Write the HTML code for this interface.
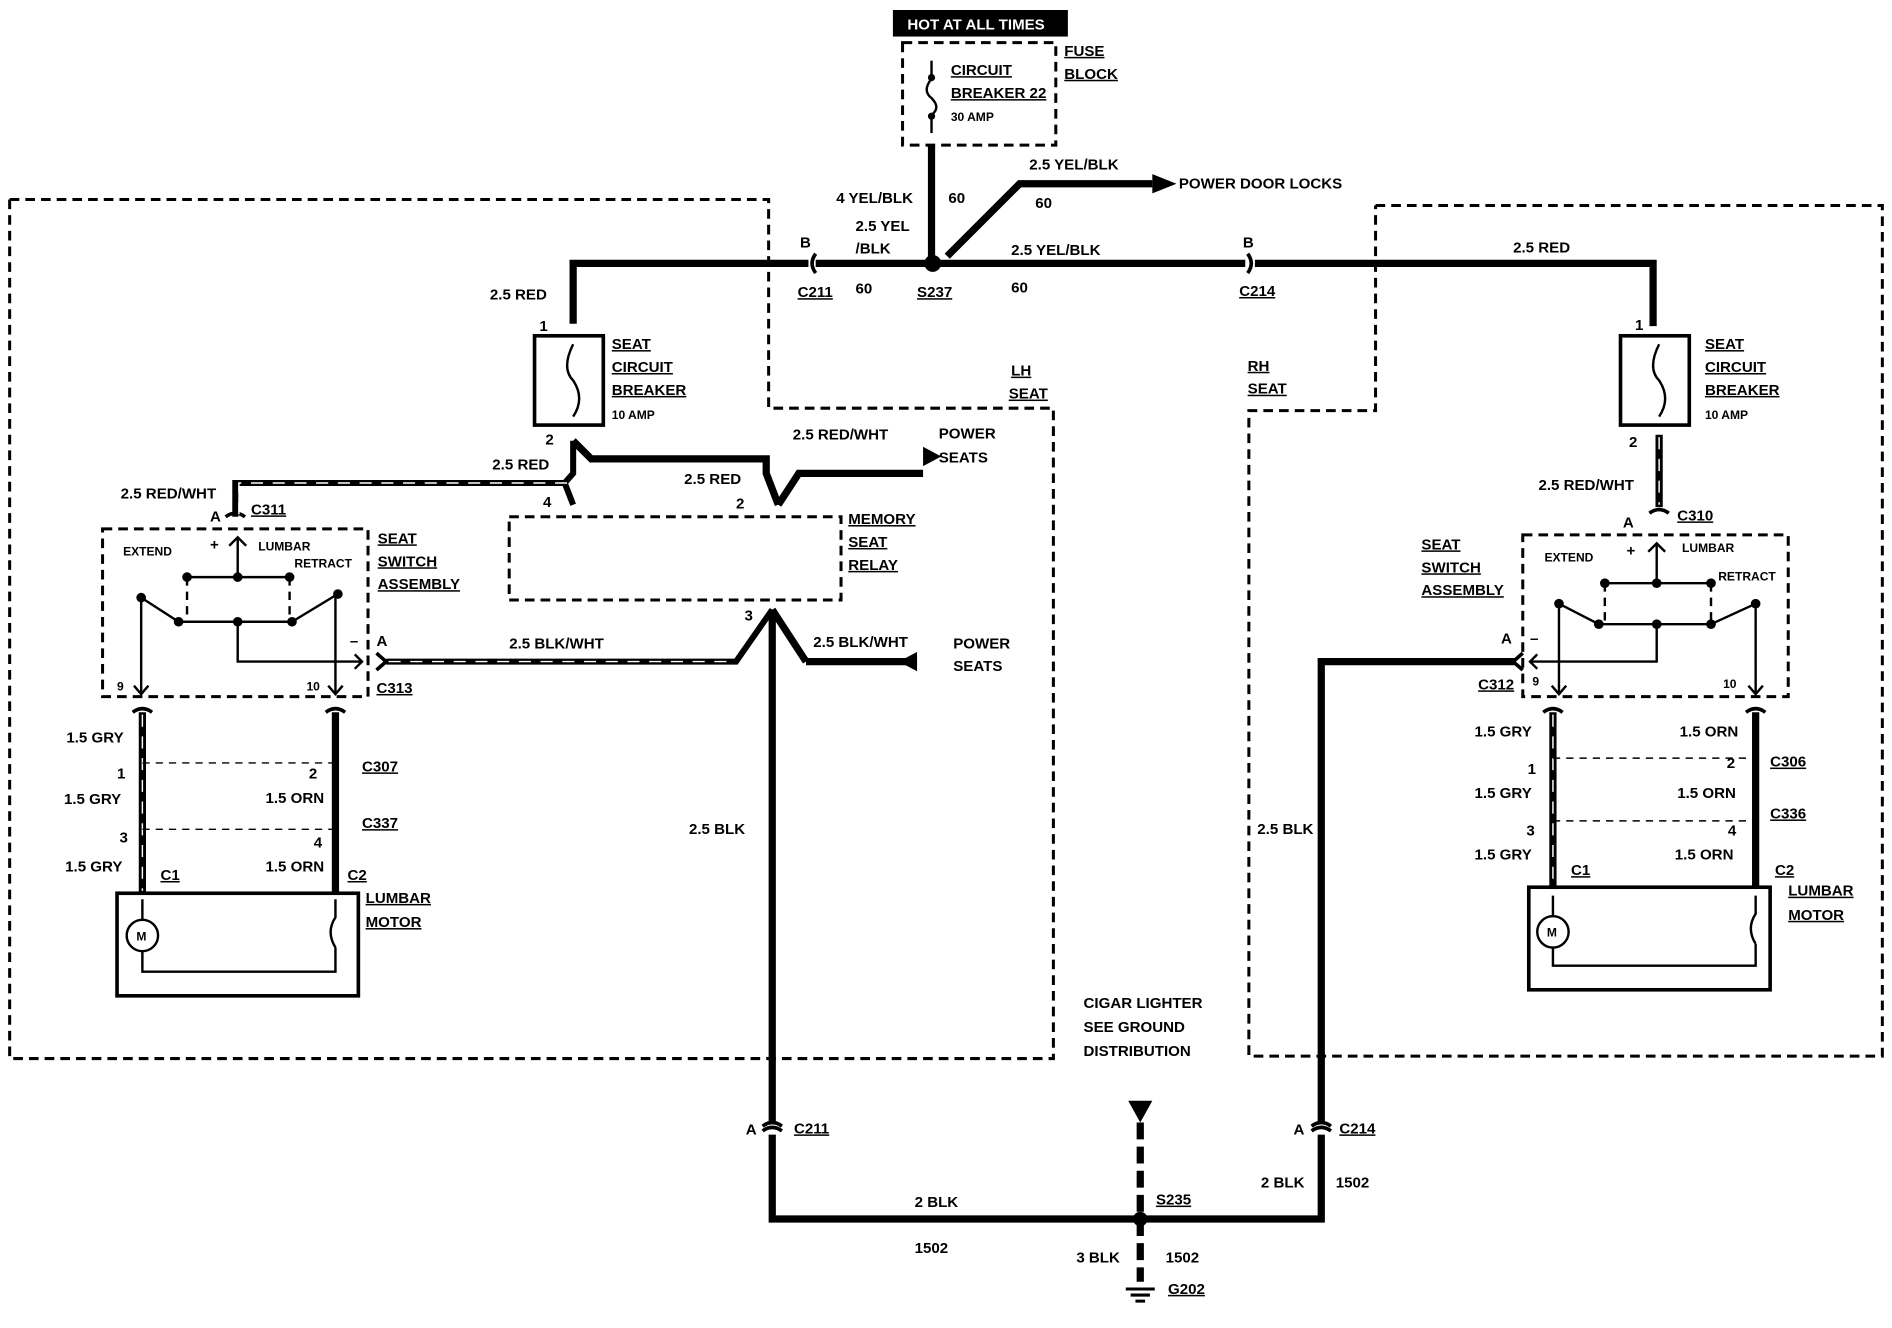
<!DOCTYPE html>
<html><head><meta charset="utf-8"><style>
html,body{margin:0;padding:0;background:#fff;}
svg{display:block;}
text{font-family:"Liberation Sans",sans-serif;font-weight:bold;font-size:12.5px;fill:#000;}
.s{font-size:10px;}
.u{text-decoration:underline;}
</style></head><body>
<svg width="1892" height="1328" viewBox="0 0 1568 1100" xmlns="http://www.w3.org/2000/svg">
<g fill="none" stroke="#000">
<g stroke-width="2.5" stroke-dasharray="8,5">
<rect x="748" y="35" width="127" height="85"/>
<polyline points="8,165 637,165 637,338 873,338 873,877 8,877 8,165"/>
<polyline points="1140,170 1560,170 1560,875 1035,875 1035,340 1140,340 1140,170"/>
<rect x="422" y="428" width="275" height="69"/>
<rect x="85" y="438" width="220" height="139"/>
<rect x="1262" y="443" width="220" height="134"/>
</g>
<path d="M772 50 V62 M772 96 V110 M772 65 q-8 10 0 16 q8 8 0 14" stroke-width="2"/>
<circle cx="772" cy="64" r="2.5" fill="#000"/><circle cx="772" cy="96" r="2.5" fill="#000"/>
<g stroke-width="6" stroke-linejoin="miter">
<path d="M772 120 V218"/>
<path d="M676 218 H1032"/>
<path d="M1040 218 H1370 V270"/>
<path d="M670 218 H475 V268"/>
<path d="M785 212 L845 152 H955"/>
<path d="M475 365 L490 380 H635 V392 L645 418"/>
<path d="M645 418 L662 392 H765"/>
<path d="M640 505 V930 M640 940 V1010 H945"/>
<path d="M945 1010 H1095 V940 M1095 930 V548 H1255"/>
<path d="M668 548 H760"/>
<path d="M640 505 L668 548"/>
<path d="M1375 360 V420"/>
<path d="M118 590 V740 M278 590 V740 M1287 590 V735 M1455 590 V735"/>
<path d="M945 930 V1062" stroke-dasharray="14,6"/>
</g>
<!-- connector symbols -->
<g stroke-width="3">
<path d="M676 210 q-6 8 0 16 M1034 210 q6 8 0 16 M632 933 q8 -6 16 0 M1087 933 q8 -6 16 0 M632 937 q8 -6 16 0 M1087 937 q8 -6 16 0"/>
<path d="M312 541 l8 7 l-8 7 M187 428 q8 -6 16 0 M1367 425 q8 -6 16 0 M1262 541 l-8 7 l8 7"/>
<path d="M110 590 q8 -6 16 0 M270 590 q8 -6 16 0 M1279 590 q8 -6 16 0 M1447 590 q8 -6 16 0"/>
</g>
<g stroke-width="5">
<path d="M475 365 V392 L468 400 H195 V428"/>
<path d="M468 400 L475 418"/>
<path d="M320 548 H610 L640 505"/>
</g>
<g stroke="#fff" stroke-width="1.2" stroke-dasharray="10,8">
<path d="M470 400 H198 V428"/>
<path d="M322 548 H608"/>
<path d="M1375 362 V418"/>
<path d="M118 592 V738 M1287 592 V733"/>
</g>
<path d="M955 144 L975 152 L955 160Z M765 370 L780 378 L765 386Z M760 540 L745 548 L760 556Z M935 912 L955 912 L945 930Z" fill="#000" stroke="none"/>
<rect x="443" y="278" width="57" height="74" stroke-width="3"/>
<rect x="1343" y="278" width="57" height="74" stroke-width="3"/>
<path d="M475 285 q-10 20 0 30 q10 15 0 30 M1375 285 q-10 20 0 30 q10 15 0 30" stroke-width="2"/>
<rect x="97" y="740" width="200" height="85" stroke-width="3"/>
<rect x="1267" y="735" width="200" height="85" stroke-width="3"/>
<g stroke-width="2">
<circle cx="118" cy="775" r="13"/><path d="M118 745 V762 M118 788 V805 H278 V785 M278 745 V760 q-8 12 0 25"/>
<circle cx="1287" cy="772" r="13"/><path d="M1287 742 V759 M1287 785 V800 H1455 V782 M1455 742 V757 q-8 12 0 25"/>
<path d="M155 478 H240 M148 515 H242 M117 495 L148 515 M280 492 L242 515 M117 495 V575 M278 492 V575 M197 478 V445 M197 515 V548 H300"/>
<path d="M155 478 V515 M240 478 V515" stroke-dasharray="7,5"/>
<path d="M190 452 L197 445 L204 452 M111 568 L117 575 L123 568 M272 568 L278 575 L284 568 M294 542 L300 548 L294 554"/>
<path d="M1330 483 H1418 M1325 517 H1418 M1292 500 L1325 517 M1455 500 L1418 517 M1292 500 V575 M1455 500 V575 M1373 483 V450 M1373 517 V548 H1268"/>
<path d="M1330 483 V517 M1418 483 V517" stroke-dasharray="7,5"/>
<path d="M1366 457 L1373 450 L1380 457 M1286 568 L1292 575 L1298 568 M1449 568 L1455 575 L1461 568 M1274 542 L1268 548 L1274 554"/>
<path d="M118 632 H278 M118 687 H278 M1287 628 H1455 M1287 680 H1455" stroke-dasharray="6,5" stroke-width="1.2"/>
<path d="M933 1068 H957 M937 1073 H953 M941 1078 H949" stroke-width="2.5"/>
</g>
<g fill="#000" stroke="none">
<circle cx="148" cy="515" r="4"/><circle cx="197" cy="515" r="4"/><circle cx="242" cy="515" r="4"/><circle cx="155" cy="478" r="4"/><circle cx="197" cy="478" r="4"/><circle cx="240" cy="478" r="4"/><circle cx="117" cy="495" r="4"/><circle cx="280" cy="492" r="4"/>
<circle cx="1325" cy="517" r="4"/><circle cx="1373" cy="517" r="4"/><circle cx="1418" cy="517" r="4"/><circle cx="1330" cy="483" r="4"/><circle cx="1373" cy="483" r="4"/><circle cx="1418" cy="483" r="4"/><circle cx="1292" cy="500" r="4"/><circle cx="1455" cy="500" r="4"/>
<circle cx="773" cy="218" r="7"/><circle cx="945" cy="1010" r="6"/>
<rect x="740" y="8" width="145" height="22"/>
</g>
</g>
<text x="752" y="24" style="fill:#fff" font-size="12">HOT AT ALL TIMES</text>
<text x="788" y="62" class="u">CIRCUIT</text><text x="788" y="81" class="u">BREAKER 22</text><text x="788" y="100" class="s">30 AMP</text>
<text x="882" y="46" class="u">FUSE</text><text x="882" y="65" class="u">BLOCK</text>
<text x="693" y="168">4 YEL/BLK</text><text x="786" y="168">60</text>
<text x="709" y="191">2.5 YEL</text><text x="709" y="210">/BLK</text>
<text x="853" y="140">2.5 YEL/BLK</text><text x="858" y="172">60</text>
<text x="977" y="156" font-size="14">POWER DOOR LOCKS</text>
<text x="838" y="211">2.5 YEL/BLK</text><text x="838" y="242">60</text><text x="709" y="243">60</text>
<text x="663" y="205">B</text><text x="661" y="246" class="u">C211</text>
<text x="760" y="246" class="u">S237</text>
<text x="1030" y="205">B</text><text x="1027" y="245" class="u">C214</text>
<text x="1254" y="209">2.5 RED</text>
<text x="406" y="248">2.5 RED</text>
<text x="447" y="274">1</text><text x="452" y="368">2</text>
<text x="1355" y="273">1</text><text x="1350" y="370">2</text>
<text x="507" y="289" class="u">SEAT</text><text x="507" y="308" class="u">CIRCUIT</text><text x="507" y="327" class="u">BREAKER</text><text x="507" y="347" class="s">10 AMP</text>
<text x="1413" y="289" class="u">SEAT</text><text x="1413" y="308" class="u">CIRCUIT</text><text x="1413" y="327" class="u">BREAKER</text><text x="1413" y="347" class="s">10 AMP</text>
<text x="838" y="311" class="u">LH</text><text x="836" y="330" class="u">SEAT</text>
<text x="1034" y="307" class="u">RH</text><text x="1034" y="326" class="u">SEAT</text>
<text x="657" y="364">2.5 RED/WHT</text><text x="778" y="363">POWER</text><text x="778" y="383">SEATS</text>
<text x="408" y="389">2.5 RED</text><text x="567" y="401">2.5 RED</text>
<text x="100" y="413">2.5 RED/WHT</text><text x="450" y="420">4</text><text x="610" y="421">2</text>
<text x="174" y="432">A</text><text x="208" y="426" class="u">C311</text>
<text x="703" y="434" class="u">MEMORY</text><text x="703" y="453" class="u">SEAT</text><text x="703" y="472" class="u">RELAY</text>
<text x="313" y="450" class="u">SEAT</text><text x="313" y="469" class="u">SWITCH</text><text x="313" y="488" class="u">ASSEMBLY</text>
<text x="102" y="460" class="s">EXTEND</text><text x="174" y="455">+</text><text x="214" y="456" class="s">LUMBAR</text><text x="244" y="470" class="s">RETRACT</text>
<text x="97" y="572" class="s">9</text><text x="254" y="572" class="s">10</text>
<text x="290" y="535">–</text><text x="312" y="535">A</text><text x="312" y="574" class="u">C313</text>
<text x="617" y="514">3</text>
<text x="422" y="537">2.5 BLK/WHT</text><text x="674" y="536">2.5 BLK/WHT</text>
<text x="790" y="537">POWER</text><text x="790" y="556">SEATS</text>
<text x="55" y="615">1.5 GRY</text><text x="97" y="645">1</text><text x="53" y="666">1.5 GRY</text>
<text x="256" y="645">2</text><text x="220" y="665">1.5 ORN</text>
<text x="300" y="639" class="u">C307</text><text x="300" y="686" class="u">C337</text>
<text x="99" y="698">3</text><text x="260" y="702">4</text>
<text x="54" y="722">1.5 GRY</text><text x="220" y="722">1.5 ORN</text>
<text x="133" y="729" class="u">C1</text><text x="288" y="729" class="u">C2</text>
<text x="303" y="748" class="u">LUMBAR</text><text x="303" y="768" class="u">MOTOR</text>
<text x="113" y="779" class="s">M</text><text x="1282" y="776" class="s">M</text>
<text x="571" y="691">2.5 BLK</text><text x="1042" y="691">2.5 BLK</text>
<text x="1275" y="406">2.5 RED/WHT</text>
<text x="1345" y="437">A</text><text x="1390" y="431" class="u">C310</text>
<text x="1178" y="455" class="u">SEAT</text><text x="1178" y="474" class="u">SWITCH</text><text x="1178" y="493" class="u">ASSEMBLY</text>
<text x="1280" y="465" class="s">EXTEND</text><text x="1348" y="460">+</text><text x="1394" y="457" class="s">LUMBAR</text><text x="1424" y="481" class="s">RETRACT</text>
<text x="1244" y="533">A</text><text x="1268" y="533">–</text>
<text x="1225" y="571" class="u">C312</text><text x="1270" y="568" class="s">9</text><text x="1428" y="570" class="s">10</text>
<text x="1222" y="610">1.5 GRY</text><text x="1392" y="610">1.5 ORN</text>
<text x="1266" y="641">1</text><text x="1431" y="636">2</text><text x="1467" y="635" class="u">C306</text>
<text x="1222" y="661">1.5 GRY</text><text x="1390" y="661">1.5 ORN</text><text x="1467" y="678" class="u">C336</text>
<text x="1265" y="692">3</text><text x="1432" y="692">4</text>
<text x="1222" y="712">1.5 GRY</text><text x="1388" y="712">1.5 ORN</text>
<text x="1302" y="725" class="u">C1</text><text x="1471" y="725" class="u">C2</text>
<text x="1482" y="742" class="u">LUMBAR</text><text x="1482" y="762" class="u">MOTOR</text>
<text x="898" y="835">CIGAR LIGHTER</text><text x="898" y="855">SEE GROUND</text><text x="898" y="875">DISTRIBUTION</text>
<text x="618" y="940">A</text><text x="658" y="939" class="u">C211</text>
<text x="1072" y="940">A</text><text x="1110" y="939" class="u">C214</text>
<text x="758" y="1000">2 BLK</text><text x="758" y="1038">1502</text>
<text x="958" y="998" class="u">S235</text>
<text x="1045" y="984">2 BLK</text><text x="1107" y="984">1502</text>
<text x="892" y="1046">3 BLK</text><text x="966" y="1046">1502</text>
<text x="968" y="1072" class="u">G202</text>
</svg>
</body></html>
